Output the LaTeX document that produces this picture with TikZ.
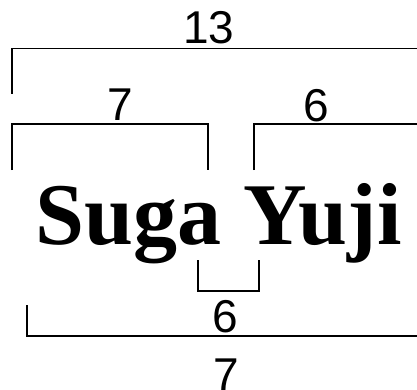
\documentclass[tikz,border=0pt]{standalone}
\usepackage{fontspec}
\setmainfont{Liberation Serif}
\newfontfamily\chiffres{Liberation Sans}
\begin{document}
\begin{tikzpicture}[x=1pt, y=1pt, line width=1.7pt,
    nombre/.style={font=\chiffres\fontsize{46}{46}\selectfont, anchor=base, inner sep=0pt},
    nom/.style={font=\bfseries\fontsize{88}{88}\selectfont, anchor=base, inner sep=0pt}]
    \useasboundingbox (0,0) rectangle (417,389);
    \clip (0,0) rectangle (417,389);
    % le nom
    \node[nom] (nom) at (218.5,144.5) {Suga Yuji};
    % 13 en haut
    \draw (12,295) |- (440,340.5);
    \node[nombre] (treize) at (209,345.5) {13};
    % 7 et 6
    \draw (12,219) |- (208,265) -- (208,219);
    \node[nombre] (sept) at (120,269) {7};
    \draw (254,219) |- (440,265);
    \node[nombre] (six) at (316,268) {6};
    % 6 sous l'espace
    \draw (198,129) |- (259,98) -- (259,129);
    \node[nombre] (sixbas) at (225.5,57) {6};
    % 7 en bas
    \draw (27,84) |- (440,53);
    \node[nombre] (septbas) at (226,-1) {7};
\end{tikzpicture}
\end{document}
